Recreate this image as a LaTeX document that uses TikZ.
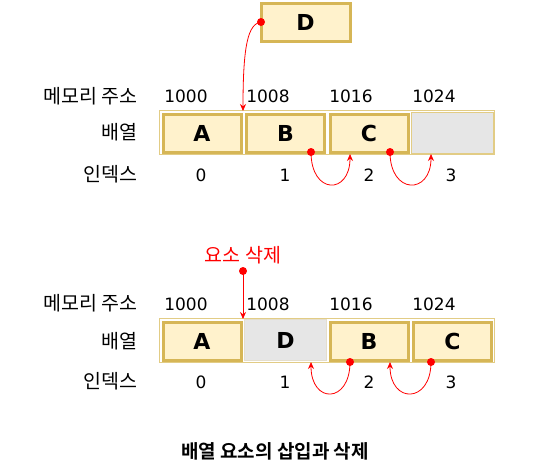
\documentclass[tikz,border=0pt]{standalone}
\usepackage{fontspec}
\setmainfont{DejaVu Sans}
\newfontfamily\kr[BoldFont={Noto Sans CJK KR Bold}]{Noto Sans CJK KR}
\usetikzlibrary{arrows.meta}
\definecolor{tanfill}{HTML}{FFF2CC}
\definecolor{tanline}{HTML}{D6B656}
\definecolor{tanthin}{HTML}{E2CC85}
\definecolor{grayfill}{HTML}{E6E6E6}
\definecolor{redc}{HTML}{FF0000}
\begin{document}
\begin{tikzpicture}[x=1pt,y=-1pt,
  cellbox/.style={draw=tanline,fill=tanfill,line width=3pt,minimum width=78pt,minimum height=38pt,inner sep=0pt,font=\fontsize{22}{24}\selectfont\bfseries},
  graybox/.style={draw=tanthin,fill=grayfill,line width=1pt,minimum width=82pt,minimum height=41pt,inner sep=0pt,font=\fontsize{22}{24}\selectfont\bfseries},
  frame/.style={draw=tanthin,line width=1pt},
  addr/.style={font=\fontsize{17}{19}\selectfont,inner sep=0pt},
  lab/.style={font=\kr\fontsize{19.5}{21}\selectfont,inner sep=0pt,anchor=east},
  redarr/.style={draw=redc,line width=0.8pt,-{Stealth[length=7pt,width=6pt]}},
  dot/.style={circle,fill=redc,inner sep=0pt,minimum size=8pt}
]
\useasboundingbox (0,0) rectangle (539,467);
% ---------- top ----------
\node[cellbox,minimum width=89pt] (D0) at (305.5,22.5) {D};
\draw[frame] (159.5,110.5) rectangle (494.5,154.5);
\node[cellbox] (tA) at (202,133) {A};
\node[cellbox] (tB) at (285.5,133) {B};
\node[cellbox] (tC) at (369,133) {C};
\node[graybox] (tE) at (452,132.5) {};
\node[lab] (tm) at (138,96) {메모리 주소};
\node[lab] (tr) at (138,132) {배열};
\node[lab] (ti) at (138,174) {인덱스};
\node[addr] (a0) at (186,96) {1000};
\node[addr] (a1) at (268,96) {1008};
\node[addr] (a2) at (351,96) {1016};
\node[addr] (a3) at (434,96) {1024};
\node[addr] (i0) at (201,175) {0};
\node[addr] (i1) at (285,175) {1};
\node[addr] (i2) at (369,175) {2};
\node[addr] (i3) at (451,175) {3};
\node[dot] (dD) at (261,22) {};
\coordinate (tIns) at (243,111);
\draw[redarr] (dD.center) .. controls (248,24) and (243,45) .. (tIns);
\node[dot] (d1) at (311,152) {};
\coordinate (e1) at (350,154);
\draw[redarr] (d1.center) .. controls (311,195) and (350,195) .. (e1);
\node[dot] (d2) at (390,152) {};
\coordinate (e2) at (431,154);
\draw[redarr] (d2.center) .. controls (390,195) and (431,195) .. (e2);
% ---------- bottom ----------
\node[font=\kr\fontsize{19.5}{21}\selectfont,text=redc,inner sep=0pt] (del) at (243,255) {요소 삭제};
\draw[frame] (159.5,318.5) rectangle (494.5,362.5);
\node[cellbox] (bA) at (202,341) {A};
\node[graybox,draw=tanthin!60!gray!40] (bD) at (285.5,340) {D};
\node[cellbox] (bB) at (369,341) {B};
\node[cellbox] (bC) at (452.5,341) {C};
\node[lab] (bm) at (138,303) {메모리 주소};
\node[lab] (br) at (138,341) {배열};
\node[lab] (bi) at (138,381) {인덱스};
\node[addr] (b0) at (186,304) {1000};
\node[addr] (b1) at (268,304) {1008};
\node[addr] (b2) at (351,304) {1016};
\node[addr] (b3) at (434,304) {1024};
\node[addr] (j0) at (201,382) {0};
\node[addr] (j1) at (285,382) {1};
\node[addr] (j2) at (369,382) {2};
\node[addr] (j3) at (451,382) {3};
\node[dot] (dDel) at (243,271) {};
\coordinate (bDel) at (243,319);
\draw[redarr] (dDel.center) -- (bDel);
\node[dot] (d3) at (350,362) {};
\coordinate (f3) at (311,362);
\draw[redarr] (d3.center) .. controls (350,404) and (311,404) .. (f3);
\node[dot] (d4) at (431,362) {};
\coordinate (f4) at (390,362);
\draw[redarr] (d4.center) .. controls (431,404) and (390,404) .. (f4);
% caption
\node[font=\kr\fontsize{19}{21}\selectfont\bfseries,inner sep=0pt] (cap) at (275,451) {배열 요소의 삽입과 삭제};
\end{tikzpicture}
\end{document}
